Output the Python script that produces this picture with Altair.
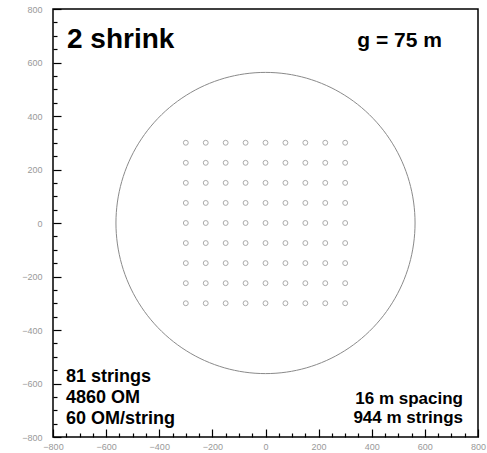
import altair as alt
import pandas as pd

# ---- data ----
string_positions = [-300, -225, -150, -75, 0, 75, 150, 225, 300]
ring_radius = 563
major_ticks = [-800, -600, -400, -200, 0, 200, 400, 600, 800]
minor_ticks = list(range(-800, 801, 50))
title_text = "2 shrink"
spacing_text = "g = 75 m"
left_notes = ["81 strings", "4860 OM", "60 OM/string"]
right_notes = ["16 m spacing", "944 m strings"]

grid = pd.DataFrame(
    [(x, y) for y in string_positions for x in string_positions], columns=["x", "y"]
)

W, H = 425, 428
xs = alt.Scale(domain=[-800, 800], nice=False, zero=False)
ys = alt.Scale(domain=[-800, 800], nice=False, zero=False)
FONT = "Liberation Sans"

tick_size = {"condition": {"test": "datum.value % 200 === 0", "value": 8}, "value": 4}

label_x_axis = alt.Axis(orient="bottom", values=major_ticks, ticks=False, domain=False,
                        grid=False, title=None, labelFontSize=9, labelColor="#999999",
                        labelFont=FONT, labelPadding=5, labelFlush=False)
label_y_axis = alt.Axis(orient="left", values=major_ticks, ticks=False, domain=False,
                        grid=False, title=None, labelFontSize=9, labelColor="#999999",
                        labelFont=FONT, labelPadding=11)
tick_x_axis = alt.Axis(orient="top", offset=-H, values=minor_ticks, labels=False,
                       domain=False, grid=False, title=None, tickSize=tick_size,
                       tickColor="black", tickWidth=1.2)
tick_y_axis = alt.Axis(orient="right", offset=-W, values=minor_ticks, labels=False,
                       domain=False, grid=False, title=None, tickSize=tick_size,
                       tickColor="black", tickWidth=1.2)

points = alt.Chart(grid).mark_point(shape="circle", size=24, filled=False,
                                    color="#888888", strokeWidth=1).encode(
    x=alt.X("x:Q", scale=xs, axis=label_x_axis),
    y=alt.Y("y:Q", scale=ys, axis=label_y_axis),
)

ring = alt.Chart(alt.sequence(0, 361, 2, as_="deg")).transform_calculate(
    cx=f"{ring_radius} * cos(datum.deg * PI / 180)",
    cy=f"{ring_radius} * sin(datum.deg * PI / 180)",
).mark_line(color="#8a8a8a", strokeWidth=1).encode(
    x=alt.X("cx:Q", scale=xs, axis=tick_x_axis),
    y=alt.Y("cy:Q", scale=ys, axis=tick_y_axis),
    order="deg:Q",
)

def label(txt, x, y, size, align="left", line_height=21):
    return alt.Chart(pd.DataFrame({"t": [txt]})).mark_text(
        font=FONT, fontWeight="bold", fontSize=size, align=align,
        baseline="alphabetic", lineBreak="\n", lineHeight=line_height, color="black",
    ).encode(x=alt.value(x), y=alt.value(y), text="t:N")

t1 = label(title_text, 14, 39, 28)
t2 = label(spacing_text, 389, 38, 21, align="right")
t3 = label("\n".join(left_notes), 13, 373, 18)
t4 = label("\n".join(right_notes), 410, 395, 17, align="right", line_height=19)

chart = alt.layer(points, ring, t1, t2, t3, t4).resolve_axis(
    x="independent", y="independent"
).properties(
    width=W, height=H,
    background="white",
    autosize=alt.AutoSizeParams(type="none"),
    padding={"left": 53, "top": 9, "right": 9, "bottom": 16},
).configure_view(stroke="black", strokeWidth=1.5)

chart.save("out.html", embed_options={"renderer": "svg", "actions": False})
